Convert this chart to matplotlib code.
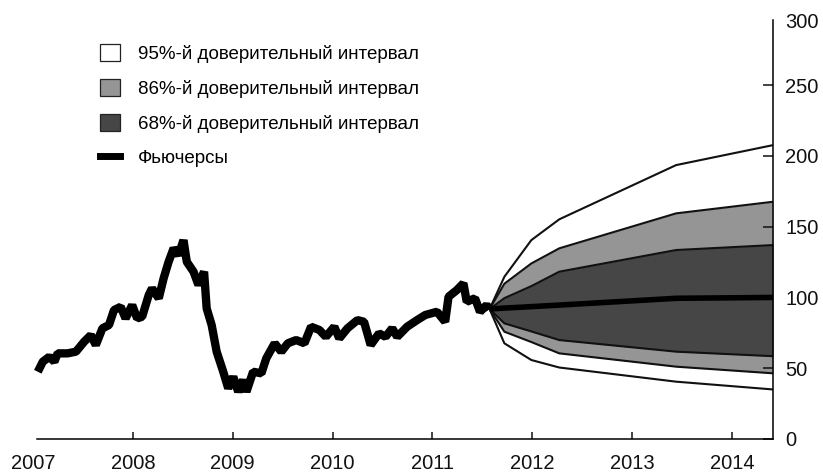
import matplotlib
matplotlib.use("Agg")
import matplotlib.pyplot as plt
from matplotlib.patches import Patch
from matplotlib.lines import Line2D

plt.rcParams['font.family'] = ['Liberation Sans', 'DejaVu Sans']

# oil price history (year, USD per barrel)
hist_t = [2007.048, 2007.098, 2007.164, 2007.214, 2007.247, 2007.346, 2007.430,
          2007.512, 2007.579, 2007.629, 2007.695, 2007.761, 2007.811, 2007.878,
          2007.927, 2007.993, 2008.043, 2008.093, 2008.159, 2008.192, 2008.259,
          2008.308, 2008.358, 2008.408, 2008.458, 2008.507, 2008.540, 2008.607,
          2008.657, 2008.713, 2008.739, 2008.789, 2008.839, 2008.905, 2008.955,
          2009.005, 2009.055, 2009.104, 2009.137, 2009.204, 2009.287, 2009.336,
          2009.420, 2009.486, 2009.552, 2009.635, 2009.718, 2009.784, 2009.868,
          2009.933, 2010.017, 2010.067, 2010.149, 2010.249, 2010.315, 2010.381,
          2010.465, 2010.530, 2010.597, 2010.647, 2010.746, 2010.846, 2010.928,
          2011.045, 2011.127, 2011.161, 2011.244, 2011.310, 2011.343, 2011.426,
          2011.476, 2011.542, 2011.572]
hist_price = [47.5, 54.6, 58.1, 54.6, 60.5, 60.5, 61.7,
              68.7, 73.4, 66.4, 78.2, 80.5, 91.1, 93.4,
              85.2, 94.6, 85.2, 86.4, 101.7, 106.4, 99.4,
              113.5, 125.2, 134.7, 129.9, 140.5, 125.2, 118.2,
              108.8, 118.2, 92.3, 80.5, 61.7, 47.5, 35.8,
              44.0, 33.4, 41.7, 33.4, 47.5, 46.4, 57.0,
              67.6, 61.7, 67.6, 69.9, 67.6, 79.3, 77.0,
              72.2, 79.3, 71.1, 78.2, 84.0, 82.8, 66.4,
              74.6, 72.2, 78.2, 72.2, 79.3, 84.0, 87.6,
              89.9, 82.8, 100.5, 105.2, 110.0, 97.0, 99.4,
              89.9, 94.6, 91.8]

# forecast fan
fan_t = [2011.572, 2011.72, 2011.99, 2012.27, 2013.44, 2014.41]
futures = [91.8, 92.5, 93.5, 94.6, 99.4, 100.0]
hi95 = [91.8, 114.6, 140.5, 155.2, 193.5, 207.6]
lo95 = [91.8, 67.6, 55.8, 50.5, 40.5, 35.0]
hi86 = [91.8, 109.7, 124.0, 134.7, 159.4, 167.6]
lo86 = [91.8, 75.8, 68.5, 60.5, 51.1, 46.4]
hi68 = [91.8, 99.5, 108.0, 118.2, 133.5, 137.0]
lo68 = [91.8, 81.7, 76.0, 69.9, 61.7, 58.5]

years = [2007, 2008, 2009, 2010, 2011, 2012, 2013, 2014]
yticks = [0, 50, 100, 150, 200, 250]

labels = ['95%-й доверительный интервал', '86%-й доверительный интервал',
          '68%-й доверительный интервал', 'Фьючерсы']

GRAY = '#959595'
DARK = '#464646'

fig = plt.figure(figsize=(8.23, 4.74), dpi=100)
ax = fig.add_axes([33 / 823, 1 - 439 / 474, 740 / 823, 419 / 474])

x0, x1 = 2007.0, 2014.41
ax.set_xlim(x0, x1)
ax.set_ylim(0, 296)

# bands
ax.fill_between(fan_t, lo95, hi95, color='white', lw=0)
ax.fill_between(fan_t, lo86, hi86, color=GRAY, lw=0)
ax.fill_between(fan_t, lo68, hi68, color=DARK, lw=0)
for edge in (hi95, lo95, hi86, lo86, hi68, lo68):
    ax.plot(fan_t, edge, color='#111111', lw=1.5, solid_joinstyle='round')

ax.plot(fan_t, futures, color='black', lw=4, solid_capstyle='butt')
ax.plot(hist_t, hist_price, color='black', lw=6,
        solid_joinstyle='bevel', solid_capstyle='butt')

# axes: only bottom and right
for s in ('top', 'left'):
    ax.spines[s].set_visible(False)
ax.spines['bottom'].set_bounds(2007.045, x1)
ax.spines['bottom'].set_linewidth(1.1)
ax.spines['right'].set_linewidth(1.1)

ax.set_xticks(years)
ax.set_xticklabels([str(y) for y in years])
ax.tick_params(axis='x', direction='in', length=5, width=1.1, pad=11,
               labelsize=14.5, colors='#111111')
ax.xaxis.get_major_ticks()[0].tick1line.set_visible(False)

ax.yaxis.tick_right()
ax.set_yticks(yticks)
ax.tick_params(axis='y', direction='in', length=7, width=1.1, pad=9,
               labelsize=14.5, colors='#111111')
ax.text(1.0 + 12 / 740, 294, '300', transform=ax.get_yaxis_transform(),
        ha='left', va='center', fontsize=14.5, color='#111111')

handles = [Patch(facecolor='white', edgecolor='#222222', lw=0.9),
           Patch(facecolor=GRAY, edgecolor='#222222', lw=0.9),
           Patch(facecolor=DARK, edgecolor='#222222', lw=0.9),
           Line2D([], [], color='black', lw=5)]
ax.legend(handles, labels, loc='upper left', bbox_to_anchor=(0.08, 0.96),
          frameon=False, fontsize=13.5, handlelength=1.1, handleheight=1.0,
          handletextpad=0.95, labelspacing=0.85, borderaxespad=0)

fig.savefig('out.png', dpi=100)
